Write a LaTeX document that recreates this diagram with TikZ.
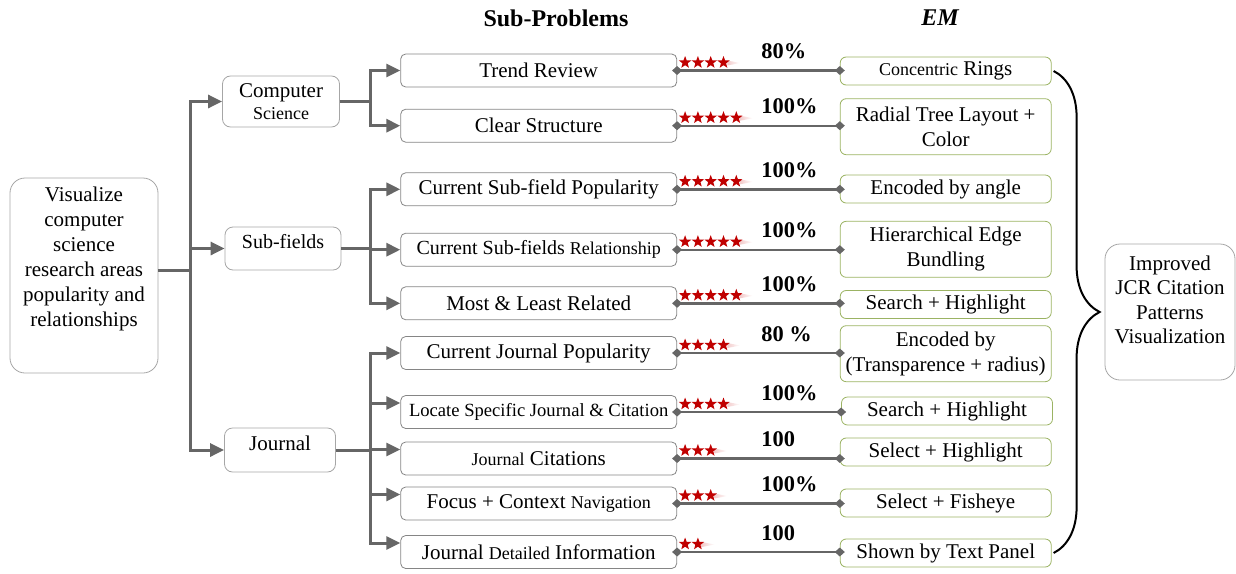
\documentclass[tikz,border=0pt]{standalone}
\usepackage{fontspec}
\setmainfont{Liberation Serif}
\usetikzlibrary{arrows.meta,shapes.geometric,decorations.pathreplacing,calc}

\definecolor{linegray}{HTML}{666666}
\definecolor{boxgray}{HTML}{A6A6A6}
\definecolor{emgreen}{HTML}{9BB363}
\definecolor{starred}{HTML}{C00000}

% smaller words inside a box
\newcommand{\smsz}{\fontsize{9}{10.8}\selectfont}

\tikzset{
  base/.style={font=\fontsize{10.5}{12.6}\selectfont},
  topbox/.style={draw=boxgray, rounded corners=7.5pt},
  areabox/.style={base, draw=boxgray, rounded corners=4pt, align=center, inner sep=1pt},
  probbox/.style={base, draw=boxgray!80!black, rounded corners=2.5pt, minimum width=138pt, minimum height=16.5pt, inner sep=1pt},
  embox/.style={base, draw=emgreen, rounded corners=3pt, minimum width=105.5pt, minimum height=14pt, align=center, inner sep=1pt},
  trunk/.style={draw=linegray, line width=1.5pt},
  branch/.style={trunk, -{Triangle[length=7pt,width=6.5pt]}},
  link/.style={draw=linegray, line width=1.2pt, shorten <=-2.5pt, shorten >=-2.5pt,
    {Diamond[length=5pt,width=4.5pt]}-{Diamond[length=5pt,width=4.5pt]}},
  starmark/.style={star, star points=5, star point ratio=2.4, fill=starred, minimum size=6.5pt, inner sep=0pt},
  pct/.style={font=\fontsize{11.2}{13}\selectfont\bfseries, anchor=base west, inner sep=0pt},
  coltitle/.style={font=\fontsize{12}{14}\selectfont\bfseries}
}

\begin{document}
\begin{tikzpicture}[x=0.5pt, y=-0.5pt]
  \useasboundingbox (0,0) rectangle (1236,573);

  % column heads
  \node[coltitle] (ttlsp) at (556,18) {Sub-Problems};
  \node[coltitle, font=\fontsize{12}{14}\selectfont\bfseries\itshape] (ttlem) at (940,18) {EM};

  % goal and outcome
  \node[topbox, minimum width=74pt, minimum height=97.5pt] (goal) at (84,275.5) {};
  \node[base, align=center, font=\fontsize{10.5}{12.5}\selectfont] (goaltxt) at (84,259) {Visualize\\computer\\science\\research areas\\popularity and\\relationships};
  \node[topbox, minimum width=65pt, minimum height=68pt] (impr) at (1170,312) {};
  \node[base, align=center, font=\fontsize{10.5}{12.25}\selectfont] (imprtxt) at (1170,300) {Improved\\JCR Citation\\Patterns\\Visualization};

  % areas
  \node[areabox, minimum width=58.5pt, minimum height=25.5pt, font=\fontsize{10.5}{11}\selectfont] (cs) at (281,101.5) {Computer\\{\smsz Science}};
  \node[areabox, minimum width=58pt, minimum height=21.5pt, font=\fontsize{10}{12}\selectfont, text depth=7pt] (sf) at (283,248.5) {Sub-fields};
  \node[areabox, minimum width=55.5pt, minimum height=22pt, text depth=7pt] (jr) at (280,450) {Journal};

  % sub-problems
  \node[probbox] (trend) at (538.7,70.5) {Trend Review};
  \node[probbox] (clear) at (538.7,125.7) {Clear Structure};
  \node[probbox] (cpop) at (538.7,189.3) {Current Sub-field Popularity};
  \node[probbox, font=\fontsize{10}{12}\selectfont] (rel) at (538.7,249.7) {Current Sub-fields {\smsz Relationship}};
  \node[probbox] (most) at (538.7,303.3) {Most \& Least Related};
  \node[probbox] (jpop) at (538.7,353) {Current Journal Popularity};
  \node[probbox, font=\fontsize{9.3}{11}\selectfont] (loc) at (538.7,412) {Locate Specific Journal \& Citation};
  \node[probbox] (cit) at (538.7,458.5) {{\smsz Journal} Citations};
  \node[probbox] (foc) at (538.7,503.5) {Focus + Context {\smsz Navigation}};
  \node[probbox] (det) at (538.7,552) {Journal {\smsz Detailed} Information};

  % methods
  \node[embox] (rings) at (945.7,71) {{\smsz Concentric} Rings};
  \node[embox, minimum height=28pt] (radial) at (945.7,126.7) {Radial Tree Layout +\\Color};
  \node[embox] (angle) at (945.7,189) {Encoded by angle};
  \node[embox, minimum height=28pt] (heb) at (945.7,249.3) {Hierarchical Edge\\Bundling};
  \node[embox] (search1) at (945.7,304.5) {Search + Highlight};
  \node[embox, minimum height=28pt] (enc) at (945.7,353.7) {Encoded by\\(Transparence + radius)};
  \node[embox] (search2) at (947,411) {Search + Highlight};
  \node[embox] (selhl) at (945.7,452) {Select + Highlight};
  \node[embox] (fish) at (945.7,503) {Select + Fisheye};
  \node[embox] (panel) at (945.7,553) {Shown by Text Panel};

  % tree arrows
  \coordinate (j0) at (190,270);
  \coordinate (j1) at (370,101.5);
  \coordinate (j2) at (370,248.5);
  \coordinate (j3) at (370,450);
  \draw[trunk] (goal.east |- j0) -- (j0);
  \foreach \t in {cs,sf,jr} \draw[branch] (j0) |- (\t.west);
  \draw[trunk] (cs.east) -- (j1);
  \foreach \t in {trend,clear} \draw[branch] (j1) |- (\t.west);
  \draw[trunk] (sf.east) -- (j2);
  \foreach \t in {cpop,rel,most} \draw[branch] (j2) |- (\t.west);
  \draw[trunk] (jr.east) -- (j3);
  \draw[branch] (j3) |- (jpop.west);
  \foreach \t in {loc,cit,foc,det} \draw[branch] (j3) |- ([yshift=4.5pt]\t.west);

  % links with ratings and scores
  \coordinate (pcx) at (761,0);
  \foreach \prob/\meth/\n/\score [count=\row] in {trend/rings/4/80\%, clear/radial/5/100\%,
      cpop/angle/5/100\%, rel/heb/5/100\%, most/search1/5/100\%, jpop/enc/4/80 \%,
      loc/search2/4/100\%, cit/selhl/3/100, foc/fish/3/100\%, det/panel/2/100} {
    \draw[link] (\prob.east) -- (\prob.east -| \meth.west);
    \shade[left color=starred!20, right color=white]
      ($(\prob.east)+({12.8*\n-1},-10)$) -- ++(13,2.5) -- ++(-13,2.5) -- cycle;
    \foreach \k in {1,...,\n}
      \node[starmark] (st\row-\k) at ($(\prob.east)+({8+12.8*(\k-1)},-8)$) {};
    \node[pct] (pc\row) at ($(\prob.east -| pcx)+(0,-12)$) {\score};
  }

  % brace to the outcome
  \coordinate (bt) at ([xshift=1pt]rings.east);
  \coordinate (bb) at (bt |- panel.east);
  \draw[line width=1pt, decorate, decoration={brace, amplitude=23pt}] (bt) -- (bb);
\end{tikzpicture}
\end{document}
